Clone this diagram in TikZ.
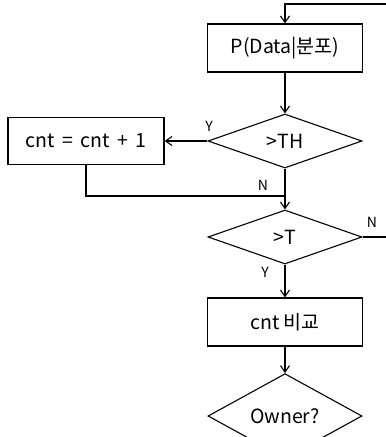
\documentclass[tikz,border=0pt]{standalone}
\usepackage{fontspec}
\setmainfont{Noto Sans CJK KR}
\usetikzlibrary{shapes.geometric,arrows.meta}

\tikzset{
  procbox/.style={draw, rectangle, line width=1.1pt, minimum width=155pt, minimum height=48pt, inner sep=0pt, font=\fontsize{19.5}{22}\selectfont},
  decide/.style={draw, diamond, line width=1.1pt, minimum width=154pt, minimum height=54pt, inner sep=0pt, font=\fontsize{19.5}{22}\selectfont},
  flow/.style={line width=1.1pt, -{Straight Barb[length=6.5pt,width=9pt]}},
  yn/.style={font=\fontsize{14}{16}\selectfont, inner sep=0pt}
}

\begin{document}
\begin{tikzpicture}[x=1pt, y=1pt, node distance=93pt]
        \useasboundingbox (0,0) rectangle (386,-437);
        \clip (0,0) rectangle (386,-437);

        \node[procbox] (prob) at (285,-48) {P(Data|분포)};
        \node[decide, below of=prob] (overth) {>TH};
        \node[procbox, left of=overth, node distance=199pt, minimum width=156pt, minimum height=47pt] (count) {cnt \,=\, cnt \,+\, 1};
        \node[decide, below of=overth, node distance=96pt] (overt) {>T};
        \node[procbox, below of=overt, node distance=85pt] (compare) {cnt 비교};
        \node[decide, below of=compare, node distance=94pt] (owner) {Owner?};

        \coordinate (loopin) at (392,-4);
        \coordinate (loopout) at (392,-237);
        \coordinate (merge) at (285,-196);

        \draw[flow] (loopin) -| (prob.north);
        \draw[flow] (prob) -- (overth);
        \draw[flow] (overth.west) -- (count.east);
        \draw[flow] (count.south) |- (merge) -- (overt.north);
        \draw[line width=1.1pt] (overth.south) -- (merge);
        \draw[line width=1.1pt] (overt.east) -- (loopout);
        \draw[flow] (overt) -- (compare);
        \draw[flow] (compare) -- (owner);

        \node[yn] at (209,-126) {Y};
        \node[yn] at (263,-185) {N};
        \node[yn] at (372,-222) {N};
        \node[yn] at (265,-272) {Y};
    \end{tikzpicture}
\end{document}
